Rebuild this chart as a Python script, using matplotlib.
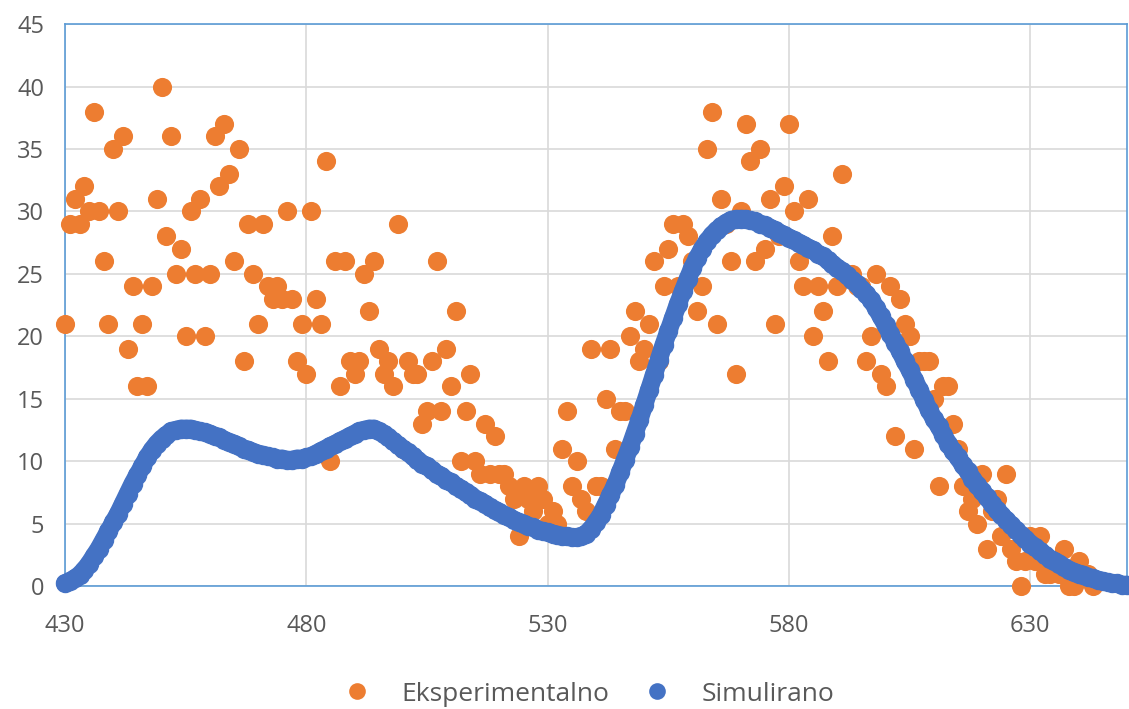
import matplotlib
matplotlib.use("Agg")
import matplotlib.pyplot as plt
from matplotlib.lines import Line2D

# Experimental data (wavelength, value)
exp_x = list(range(430, 644))
exp_y = [21, 29, 31, 29, 32, 30, 38, 30, 26, 21,
         35, 30, 36, 19, 24, 16, 21, 16, 24, 31,
         40, 28, 36, 25, 27, 20, 30, 25, 31, 20,
         25, 36, 32, 37, 33, 26, 35, 18, 29, 25,
         21, 29, 24, 23, 24, 23, 30, 23, 18, 21,
         17, 30, 23, 21, 34, 10, 26, 16, 26, 18,
         17, 18, 25, 22, 26, 19, 17, 18, 16, 29,
         11, 18, 17, 17, 13, 14, 18, 26, 14, 19,
         16, 22, 10, 14, 17, 10, 9, 13, 9, 12,
         9, 9, 8, 7, 4, 8, 7, 6, 8, 7,
         5, 6, 5, 11, 14, 8, 10, 7, 6, 19,
         8, 8, 15, 19, 11, 14, 14, 20, 22, 18,
         19, 21, 26, 18, 24, 27, 29, 24, 29, 28,
         26, 22, 24, 35, 38, 21, 31, 29, 26, 17,
         30, 37, 34, 26, 35, 27, 31, 21, 28, 32,
         37, 30, 26, 24, 31, 20, 24, 22, 18, 28,
         24, 33, 25, 25, 24, 24, 18, 20, 25, 17,
         16, 24, 12, 23, 21, 20, 11, 18, 18, 18,
         15, 8, 16, 16, 13, 11, 8, 6, 7, 5,
         9, 3, 6, 7, 4, 9, 3, 2, 0, 2,
         4, 2, 4, 1, 1, 2, 1, 3, 0, 0,
         2, 1, 1, 0]

# Simulated data (wavelength, value)
sim_x = list(range(430, 651))
sim_y = [0.2, 0.4, 0.6, 0.9, 1.3, 1.8, 2.4, 3.0, 3.7, 4.4,
         5.1, 5.8, 6.6, 7.4, 8.2, 8.9, 9.6, 10.3, 10.9, 11.4,
         11.8, 12.1, 12.4, 12.5, 12.6, 12.6, 12.6, 12.5, 12.4, 12.3,
         12.2, 12.0, 11.9, 11.7, 11.5, 11.4, 11.2, 11.0, 10.9, 10.7,
         10.6, 10.5, 10.4, 10.3, 10.2, 10.2, 10.1, 10.1, 10.2, 10.2,
         10.3, 10.4, 10.6, 10.8, 11.0, 11.2, 11.4, 11.6, 11.8, 12.0,
         12.2, 12.4, 12.5, 12.6, 12.6, 12.4, 12.2, 11.9, 11.6, 11.3,
         11.0, 10.7, 10.4, 10.1, 9.8, 9.6, 9.3, 9.0, 8.8, 8.5,
         8.3, 8.0, 7.8, 7.5, 7.3, 7.0, 6.8, 6.6, 6.3, 6.1,
         5.9, 5.7, 5.5, 5.3, 5.1, 5.0, 4.8, 4.7, 4.5, 4.4,
         4.3, 4.2, 4.1, 4.0, 4.0, 3.9, 3.9, 4.0, 4.2, 4.6,
         5.1, 5.7, 6.5, 7.3, 8.1, 9.1, 10.1, 11.1, 12.2, 13.3,
         14.5, 15.7, 16.9, 18.1, 19.3, 20.4, 21.5, 22.6, 23.6, 24.6,
         25.5, 26.3, 27.0, 27.6, 28.1, 28.5, 28.8, 29.1, 29.3, 29.4,
         29.4, 29.4, 29.3, 29.2, 29.0, 28.9, 28.7, 28.5, 28.3, 28.1,
         27.9, 27.7, 27.5, 27.3, 27.1, 26.9, 26.6, 26.4, 26.1, 25.8,
         25.5, 25.2, 24.9, 24.5, 24.2, 23.8, 23.4, 22.9, 22.3, 21.6,
         20.9, 20.2, 19.5, 18.8, 18.0, 17.3, 16.5, 15.7, 14.9, 14.1,
         13.4, 12.8, 12.1, 11.4, 10.8, 10.3, 9.7, 9.2, 8.6, 8.1,
         7.6, 7.1, 6.6, 6.1, 5.7, 5.3, 4.9, 4.5, 4.1, 3.8,
         3.4, 3.1, 2.8, 2.5, 2.2, 2.0, 1.8, 1.5, 1.3, 1.1,
         1.0, 0.9, 0.7, 0.6, 0.5, 0.4, 0.3, 0.2, 0.2, 0.1,
         0.1]

x_ticks = [430, 480, 530, 580, 630]
y_ticks = [0, 5, 10, 15, 20, 25, 30, 35, 40, 45]

plt.rcParams['font.family'] = ['Open Sans', 'DejaVu Sans']

fig = plt.figure(figsize=(11.29, 7.09), dpi=100)
ax = fig.add_axes([0.0576, 0.1735, 0.9405, 0.7925])

orange = '#ED7D31'
blue = '#4472C4'
text_col = '#595959'

ax.scatter(exp_x, exp_y, s=190, color=orange, zorder=3, linewidths=0,
           clip_on=False)
ax.plot(sim_x, sim_y, color=blue, marker='o', markersize=14,
        markeredgewidth=0, linewidth=13, solid_capstyle='round',
        solid_joinstyle='round', zorder=4, clip_on=False)

ax.set_xlim(430, 650)
ax.set_ylim(0, 45)
ax.set_xticks(x_ticks)
ax.set_yticks(y_ticks)
ax.grid(True, color='#D9D9D9', linewidth=1.2, zorder=0)
ax.set_axisbelow(True)
for sp in ax.spines.values():
    sp.set_color('#5B9BD5')
    sp.set_linewidth(1.2)
ax.tick_params(length=0, labelsize=17, labelcolor=text_col)
ax.tick_params(axis='x', pad=20)
ax.tick_params(axis='y', pad=15)

handles = [
    Line2D([], [], linestyle='none', marker='o', markersize=12,
           markeredgewidth=0, color=orange, label='Eksperimentalno'),
    Line2D([], [], linestyle='none', marker='o', markersize=12,
           markeredgewidth=0, color=blue, label='Simulirano'),
]
fig.legend(handles=handles, loc='lower center', bbox_to_anchor=(0.522, -0.03),
           ncol=2, frameon=False, fontsize=19, labelcolor=text_col,
           handlelength=1.0, handletextpad=1.2, columnspacing=1.3)

fig.savefig('out.png', dpi=100)
